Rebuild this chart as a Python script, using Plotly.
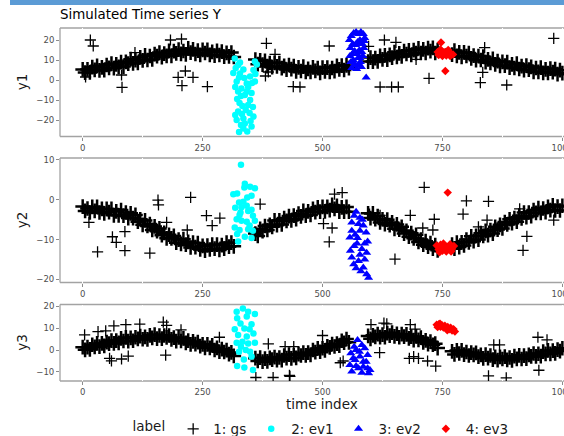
import plotly.graph_objects as go

W, H = 564, 436

# ---------------- data ----------------
time_index = list(range(0, 1001, 5))

y1_gs = [
    5.3, 3.7, 5.3, 3.8, 6.4, 5.1, 7.1, 4.8, 6.3, 4.9,
    7.5, 6.1, 8.2, 5.9, 7.8, 6.6, 9.0, 6.7, 9.1, 8.2,
    10.4, 8.3, 9.9, 8.6, 11.3, 9.8, 12.3, 10.0, 12.0, 10.3,
    12.9, 11.9, 13.7, 11.4, 13.2, 12.1, 14.6, 12.1, 14.4, 13.3,
    15.2, 13.1, 14.5, 12.8, 15.8, 13.7, 15.3, 13.0, 14.7, 12.6,
    15.1, 13.5, 15.1, 12.6, 14.1, 12.2, 14.6, 12.5, 14.2, 11.7,
    13.6, 11.8, 13.7, 11.5, None, None, None, None, None, None,
    None, None, 10.2, 7.9, 9.8, 7.7, 9.6, 6.9, 8.5, 6.4,
    8.6, 6.8, 8.5, 5.9, 7.1, 5.2, 7.5, 5.4, 6.9, 4.3,
    6.3, 4.5, 6.7, 4.0, 5.6, 4.0, 6.3, 4.6, 5.9, 3.6,
    6.2, 4.3, 6.2, 4.1, 6.0, 4.4, 7.1, 5.3, 7.2, 5.0,
    7.3, 5.9, None, None, None, None, None, None, None, 9.2,
    11.2, 9.2, 10.9, 9.3, 12.1, 10.3, 12.3, 10.2, 12.6, 11.2,
    13.9, 11.5, 13.3, 11.8, 14.5, 13.0, 14.8, 12.5, 14.9, 13.4,
    15.8, 13.5, 15.3, 13.5, 15.9, 14.4, 16.1, 13.5, 15.0, None,
    None, None, None, None, 12.7, 14.7, 12.1, 13.8, 11.6, 13.8,
    12.0, 13.5, 10.8, 12.2, 9.9, 12.0, 10.0, 11.7, 8.9, 10.3,
    8.5, 10.6, 7.8, 9.4, 7.0, 9.1, 7.2, 8.9, 6.2, 7.8,
    6.0, 8.2, 5.5, 6.9, 4.9, 7.2, 5.2, 6.6, 4.0, 6.0,
    4.1, 6.2, 3.6, 5.3, 3.5, 5.7, 3.9, 5.4, 2.9, 4.9,
    3.4,
]

y2_gs = [
    -1.7, -2.8, -2.2, -3.2, -1.8, -2.8, -1.8, -3.2, -2.3, -3.4,
    -2.3, -3.1, -2.3, -3.9, -2.9, -3.9, -2.6, -4.0, -3.2, -4.6,
    -3.4, -4.6, -3.8, -5.5, -4.9, -6.3, -5.2, -6.6, -6.1, -7.6,
    -6.7, -7.9, -7.2, -8.9, -8.3, -9.7, -8.8, -9.7, -9.1, -10.8,
    -10.0, -11.1, -9.9, -11.3, -10.6, -12.0, -10.8, -11.9, -10.9, -12.5,
    -11.6, -12.8, -11.5, -12.5, -11.3, -12.3, -11.3, -12.6, -11.4, -12.3,
    -10.8, -11.8, -10.8, -11.7, None, None, None, None, None, None,
    None, None, -8.5, -9.1, -7.3, -7.9, -6.6, -7.6, -6.3, -6.8,
    -5.2, -6.4, -5.2, -6.2, -4.6, -5.3, -4.1, -5.2, -4.0, -4.9,
    -3.5, -4.2, -2.8, -4.0, -2.9, -3.8, -2.3, -3.1, -1.9, -3.0,
    -1.8, -2.9, -1.8, -2.6, -1.3, -2.3, -1.5, -3.0, -1.9, -3.0,
    -1.8, -3.0, None, None, None, None, None, None, None, -3.4,
    -4.6, -3.4, -4.9, -4.1, -5.7, -4.9, -6.1, -5.0, -6.4, -5.7,
    -7.3, -6.2, -7.5, -6.8, -8.5, -7.8, -9.3, -8.4, -9.7, -8.8,
    -10.6, -10.0, -11.3, -10.4, -11.8, -10.9, -12.3, -11.4, -12.7, None,
    None, None, None, None, -11.3, -12.3, -10.8, -11.9, -10.7, -11.5,
    -10.0, -10.7, -9.2, -10.4, -9.1, -10.0, -8.4, -9.1, -7.8, -8.9,
    -7.6, -8.5, -6.8, -7.5, -6.3, -7.2, -5.6, -6.2, -4.9, -5.9,
    -4.6, -5.5, -4.0, -4.7, -3.2, -4.4, -3.2, -4.1, -2.6, -3.3,
    -2.1, -3.3, -2.2, -3.1, -1.8, -2.6, -1.4, -2.7, -1.7, -2.7,
    -1.5,
]

y3_gs = [
    1.3, 0.1, 1.3, 0.3, 2.4, 1.4, 3.0, 1.5, 3.0, 1.9,
    3.6, 2.9, 4.3, 3.0, 4.3, 3.2, 5.3, 4.1, 5.7, 4.0,
    5.5, 4.2, 5.8, 5.1, 6.3, 4.9, 6.0, 4.8, 6.7, 5.5,
    7.0, 5.2, 6.6, 5.2, 6.6, 5.7, 6.6, 4.8, 5.6, 4.0,
    5.7, 4.1, 5.3, 3.2, 4.3, 2.6, 3.9, 2.7, 3.6, 1.8,
    2.6, 1.0, 2.6, 1.0, 2.1, 0.0, 1.0, -0.8, 0.4, -0.9,
    -0.1, -1.9, -1.1, -2.7, None, None, None, None, None, None,
    None, None, -3.7, -5.0, -3.5, -5.3, -3.9, -5.2, -3.6, -4.4,
    -3.2, -4.6, -3.4, -4.6, -2.5, -3.7, -2.1, -3.8, -2.3, -3.6,
    -1.9, -2.5, -1.2, -2.4, -1.2, -2.2, 0.0, -1.0, 0.7, -0.8,
    0.8, -0.2, 1.7, 1.2, 2.7, 1.6, 2.9, 2.0, 4.2, 3.3,
    5.0, 3.5, None, None, None, None, None, None, None, 6.4,
    5.1, 6.7, 6.0, 7.2, 5.9, 7.0, 5.8, 7.7, 6.5, 7.9,
    6.2, 7.4, 5.8, 7.2, 6.1, 7.1, 5.3, 6.1, 4.5, 6.2,
    4.6, 5.6, 3.5, 4.4, 2.7, 3.8, 2.4, 2.9, 0.9, None,
    None, None, None, None, -0.6, -2.0, -0.2, -1.6, -0.2, -2.1,
    -0.9, -2.5, -1.2, -2.2, -1.3, -3.0, -2.2, -3.8, -2.1, -3.7,
    -2.5, -4.4, -3.1, -4.6, -3.1, -4.1, -3.0, -4.5, -3.4, -4.7,
    -2.8, -4.0, -2.4, -4.1, -2.6, -3.9, -2.2, -2.9, -1.6, -2.9,
    -1.7, -2.8, -0.7, -1.8, -0.2, -1.8, -0.3, -1.5, 0.2, -0.5,
    0.8,
]

# isolated "gs" points away from the band
y1_out_t = [6, 16, 22, 81, 82, 109, 183, 199, 206, 207, 214, 230, 260, 381, 383, 387, 401,
            439, 453, 514, 596, 620, 629, 644, 653, 658, 695, 722, 829, 834, 838, 884, 982]
y1_out = [1.5, 20, 17, 2.5, -3.7, 13.7, 20, 1.3, 20.5, -2.8, 4.5, 1.3, -3.3, 2, 18.3, 4, 12.8,
          -3.3, -3.5, 17, 16.8, -3.5, 20, -3.5, 18.8, -3.5, 10.3, 0.8, -1.3, 3.8, 16.2, -2.5, 20.8]

y2_out_t = [13, 31, 62, 70, 88, 88, 140, 157, 158, 175, 218, 225, 258, 270, 286, 370, 502, 514, 520,
            525, 541, 598, 620, 651, 683, 709, 712, 730, 733, 793, 800, 825, 843, 846, 911, 918, 926, 982]
y2_out = [-5.7, -13.1, -9.3, -10.7, -8, -12.8, -13.4, -0.1, -1.3, -5.7, -7.6, 0.6, -4, -6.5, -4.6, -1.1,
          -6, -10.6, -7.1, 1.4, 1.8, -3.6, -3.9, -14.9, -3.9, -7.1, 3.1, -7.6, -4.9, -3.6, -0.3, -6.8,
          -5.1, -0.4, -2.3, -12.7, -9.2, -5.1]

y3_out_t = [4, 32, 48, 56, 60, 65, 81, 90, 95, 119, 168, 173, 175, 205, 285, 361, 387, 397, 422, 431,
            432, 440, 500, 537, 543, 601, 619, 628, 634, 681, 683, 690, 693, 700, 719, 736, 846, 857,
            869, 883, 949, 951, 968]
y3_out = [6.9, 8.4, 8.7, -3.8, -4.9, 11, -4.1, 11.5, -2.8, 11.8, 12.7, -2.3, 11.2, 9.2, 5.8, -12.5,
          2.8, -12.5, 1.5, -11.5, -12, 1.5, 6.6, -5.8, -5, 11.5, -1.2, 12.2, 11.9, -3.8, 11.5, -3,
          9.5, -3.8, -5, -7.3, -11.8, 2.3, 2.3, -12.7, 5.8, -9.2, 4.6]

# event 1 (cyan)
ev1_t1 = [317, 324, 335, 328, 321, 342, 359, 349, 356, 359, 331, 324, 342, 349, 345, 324, 335, 356,
          338, 352, 321, 335, 328, 319, 326, 318, 330, 322, 338, 345, 352, 360, 363, 333, 327, 340,
          348, 318, 330, 343, 350, 326, 355, 314, 337, 353, 332]
ev1_y1 = [10.8, 7.5, 5.3, 3.3, -0.8, -1.7, -0.8, 1.7, 5, 9.2, -4.2, -5.8, -5.8, -10, -12.5, -15.8,
          -19.2, -18.3, -21.7, -23.3, -20, -24.2, 8.7, 6.0, 1.2, -3.5, -8, -9.5, -7.5, -3.5, -6.5,
          3.0, 7.8, -13, -11.5, -15, -16.5, -17.5, -22.5, -25.8, -20.5, -26, -13.5, 3.5, 1.0, -1.5, -17]
ev1_t2 = [330, 322, 337, 349, 359, 326, 343, 352, 329, 345, 355, 321, 331, 342, 359, 317, 327, 345,
          355, 322, 338, 352, 324, 342, 331, 314, 335, 348, 338, 327, 318, 352]
ev1_y2 = [8.8, 1.6, 3.1, 3.3, 2.9, -0.7, 0.6, 1.0, -3.2, -2.8, -4.0, -4.9, -5.3, -5.5, -5.3, -7.0,
          -7.6, -7.4, -7.8, -8.6, -9.3, -9.6, -10.5, -1.5, -1.9, 1.4, -0.5, -6.5, 4.0, -3.8, -2.0, -2.5]
ev1_t3 = [321, 334, 345, 359, 322, 342, 329, 352, 317, 337, 348, 324, 342, 321, 333, 345, 359, 326,
          340, 352, 322, 337, 355, 349, 336, 330, 356]
ev1_y3 = [17.4, 18.9, 17.4, 16.4, 14.4, 15.2, 12.1, 11.7, 9.4, 9.8, 9.4, 6.8, 6.1, 3.3, 3.8, 3.0,
          3.3, -0.8, 0.0, -3.0, -7.3, -8.0, -9.1, -0.8, -4.3, 1.5, 7.5]

# event 2 (blue)
ev2_t1 = [556, 560, 565, 570, 575, 580, 585, 588, 558, 563, 568, 573, 578, 583, 587, 557, 562, 567,
          572, 577, 582, 586, 559, 564, 569, 574, 579, 584, 561, 566, 571, 576, 581, 570, 578, 591]
ev2_y1 = [20, 22, 23.5, 24, 23, 24, 23, 21, 16, 18, 17.5, 19, 20, 18, 19.5, 12, 13, 14.5, 13, 15, 14,
          16, 9, 10, 7.5, 11, 9, 12, 6, 7.5, 5.5, 8, 6.5, 18, 11, 1.3]
ev2_t2 = [566, 578, 561, 575, 585, 561, 578, 591, 557, 573, 594, 566, 582, 592, 561, 575, 585, 592,
          596, 570, 583, 568, 588, 558, 578, 565, 580, 570, 588, 572]
ev2_y2 = [-4.0, -4.5, -5.7, -6.1, -6.5, -7.8, -7.8, -8.2, -9.5, -9.6, -10.5, -11.6, -12.4, -13.3,
          -14.5, -15.4, -17.0, -18.7, -19.6, -3.0, -5.0, -8.8, -11.0, -12.8, -13.8, -16.2, -18.0,
          -17.2, -15.0, -11.0]
ev2_t3 = [573, 566, 582, 559, 577, 594, 568, 585, 557, 575, 594, 561, 582, 599, 570, 588, 564, 578,
          591, 570, 585, 596]
ev2_y3 = [4.5, 1.5, 2.3, -1.5, -0.8, -2.3, -4.5, -5.3, -6.8, -8.3, -8.3, -9.8, -10.3, -9.1, 0.0,
          0.8, -3.8, -3.0, -5.3, -7.3, -7.6, -10.6]

# event 3 (red)
ev3_t1 = [740, 744, 748, 752, 756, 760, 764, 768, 742, 750, 758, 766, 772, 746, 762, 747, 756]
ev3_y1 = [14, 13, 14.5, 13, 14, 13.2, 14, 12.8, 12.5, 12, 12.2, 12, 12.8, 15.2, 15, 18.7, 4.5]
ev3_t2 = [738, 742, 746, 750, 754, 758, 762, 766, 770, 774, 744, 752, 760, 768, 761]
ev3_y2 = [-11.5, -12.5, -11.3, -12.8, -11.8, -13.0, -12.0, -11.2, -12.4, -11.6, -13.2, -11.0, -12.6,
          -13.0, 1.8]
ev3_t3 = [738, 740, 743, 746, 749, 752, 755, 758, 761, 764, 767, 770, 773, 776, 745, 760]
ev3_y3 = [11.5, 10.4, 11.8, 10.6, 11.3, 10.2, 11.0, 9.8, 10.5, 9.4, 10.1, 8.9, 9.5, 8.4, 12.0, 9.0]

labels = ["1: gs", "2: ev1", "3: ev2", "4: ev3"]
y_titles = ["y1", "y2", "y3"]
x_ticks = [0, 250, 500, 750, 1000]
x_minor = [125, 375, 625, 875]
y_ticks = [[-20, -10, 0, 10, 20], [-20, -10, 0, 10], [-10, 0, 10, 20]]

# ---------------- layout geometry (pixels) ----------------
x_left = 60
panels_px = [(28, 136.5), (158, 282.5), (304.5, 381)]
y_ranges = [[-28.25, 26], [-20.8, 10.5], [-14.1, 20.7]]
x_range = [-47.3, 1003.4]

gs_y = [y1_gs, y2_gs, y3_gs]
gs_ot = [y1_out_t, y2_out_t, y3_out_t]
gs_oy = [y1_out, y2_out, y3_out]
ev1 = [(ev1_t1, ev1_y1), (ev1_t2, ev1_y2), (ev1_t3, ev1_y3)]
ev2 = [(ev2_t1, ev2_y1), (ev2_t2, ev2_y2), (ev2_t3, ev2_y3)]
ev3 = [(ev3_t1, ev3_y1), (ev3_t2, ev3_y2), (ev3_t3, ev3_y3)]

FONT = "DejaVu Sans"
GRAY_LINE = "#A3A3A3"

fig = go.Figure()

for i in range(3):
    xa = "x" if i == 0 else f"x{i+1}"
    ya = "y" if i == 0 else f"y{i+1}"
    show = (i == 0)
    # dense band of the series (drawn bold so the band reads as a solid ribbon)
    fig.add_trace(go.Scatter(
        x=time_index, y=gs_y[i], mode="markers",
        name=labels[0], legendgroup="gs", showlegend=False, xaxis=xa, yaxis=ya,
        marker=dict(symbol="cross-thin-open", size=10.5, color="black", line=dict(width=2.5, color="black"))))
    fig.add_trace(go.Scatter(
        x=gs_ot[i], y=gs_oy[i], mode="markers",
        name=labels[0], legendgroup="gs", showlegend=show, xaxis=xa, yaxis=ya,
        marker=dict(symbol="cross-thin-open", size=8, color="black", line=dict(width=1.3, color="black"))))
    fig.add_trace(go.Scatter(
        x=ev1[i][0], y=ev1[i][1], mode="markers",
        name=labels[1], legendgroup="ev1", showlegend=show, xaxis=xa, yaxis=ya,
        marker=dict(symbol="circle", size=6.5, color="#00FFFF", line=dict(width=0))))
    fig.add_trace(go.Scatter(
        x=ev2[i][0], y=ev2[i][1], mode="markers",
        name=labels[2], legendgroup="ev2", showlegend=show, xaxis=xa, yaxis=ya,
        marker=dict(symbol="triangle-up", size=8, color="#0000FF", line=dict(width=0))))
    fig.add_trace(go.Scatter(
        x=ev3[i][0], y=ev3[i][1], mode="markers",
        name=labels[3], legendgroup="ev3", showlegend=show, xaxis=xa, yaxis=ya,
        marker=dict(symbol="diamond", size=6.5, color="#FF0000", line=dict(width=0))))

layout = dict(
    width=W, height=H,
    margin=dict(l=0, r=0, t=0, b=0, autoexpand=False),
    paper_bgcolor="white", plot_bgcolor="white",
    showlegend=True,
    legend=dict(
        orientation="h", x=322 / W, xanchor="center", y=1 - 429 / H, yanchor="middle",
        title=dict(text="label", side="left", font=dict(family=FONT, size=13.5, color="#1A1A1A")),
        font=dict(family=FONT, size=13.5, color="#1A1A1A"),
        itemwidth=30, bgcolor="rgba(0,0,0,0)"),
)

shapes = []
annotations = []
for i in range(3):
    top, bot = panels_px[i]
    xkey = "xaxis" if i == 0 else f"xaxis{i+1}"
    ykey = "yaxis" if i == 0 else f"yaxis{i+1}"
    xa = "x" if i == 0 else f"x{i+1}"
    ya = "y" if i == 0 else f"y{i+1}"
    layout[xkey] = dict(
        domain=[x_left / W, 1.0], range=x_range, anchor=ya,
        tickvals=x_ticks, ticks="outside", ticklen=3, tickwidth=1, tickcolor="#8C8C8C",
        tickfont=dict(family=FONT, size=8.5, color="#4D4D4D"), ticklabeloverflow="allow",
        showgrid=True, gridcolor="white", gridwidth=1.3,
        minor=dict(tickvals=x_minor, showgrid=True, gridcolor="white", gridwidth=1.3, ticks=""),
        showline=False, zeroline=False, automargin=False, fixedrange=True)
    layout[ykey] = dict(
        domain=[1 - bot / H, 1 - top / H], range=y_ranges[i], anchor=xa,
        tickvals=y_ticks[i], ticks="outside", ticklen=3, tickwidth=1, tickcolor="#8C8C8C",
        tickfont=dict(family=FONT, size=8.5, color="#4D4D4D"),
        showgrid=False, showline=False, zeroline=False, automargin=False, fixedrange=True)
    x0p, x1p = x_left / W, 1.0
    y0p, y1p = 1 - bot / H, 1 - top / H
    for (ax0, ay0, ax1, ay1) in [(x0p, y1p, x1p, y1p), (x0p, y0p, x1p, y0p), (x0p, y0p, x0p, y1p)]:
        shapes.append(dict(type="line", xref="paper", yref="paper", x0=ax0, y0=ay0, x1=ax1, y1=ay1,
                           line=dict(color=GRAY_LINE, width=1.3), layer="below"))
    annotations.append(dict(
        text=y_titles[i], xref="paper", yref="paper", x=22 / W, y=1 - (top + bot) / 2 / H,
        xanchor="center", yanchor="middle", textangle=-90, showarrow=False,
        font=dict(family=FONT, size=13.5, color="#1A1A1A")))

# top window bar
shapes.append(dict(type="rect", xref="paper", yref="paper", x0=10 / W, x1=1.0, y0=1 - 5 / H, y1=1.0,
                   fillcolor="#5B9BD5", line=dict(width=0), layer="above"))

annotations.append(dict(
    text="Simulated Time series Y", xref="paper", yref="paper", x=58 / W, y=1 - 15 / H,
    xanchor="left", yanchor="middle", showarrow=False,
    font=dict(family=FONT, size=13.4, color="black")))
annotations.append(dict(
    text="time index", xref="paper", yref="paper", x=322 / W, y=1 - 403.5 / H,
    xanchor="center", yanchor="middle", showarrow=False,
    font=dict(family=FONT, size=13.5, color="#1A1A1A")))

layout["shapes"] = shapes
layout["annotations"] = annotations
fig.update_layout(**layout)

fig.write_html("out.html")
